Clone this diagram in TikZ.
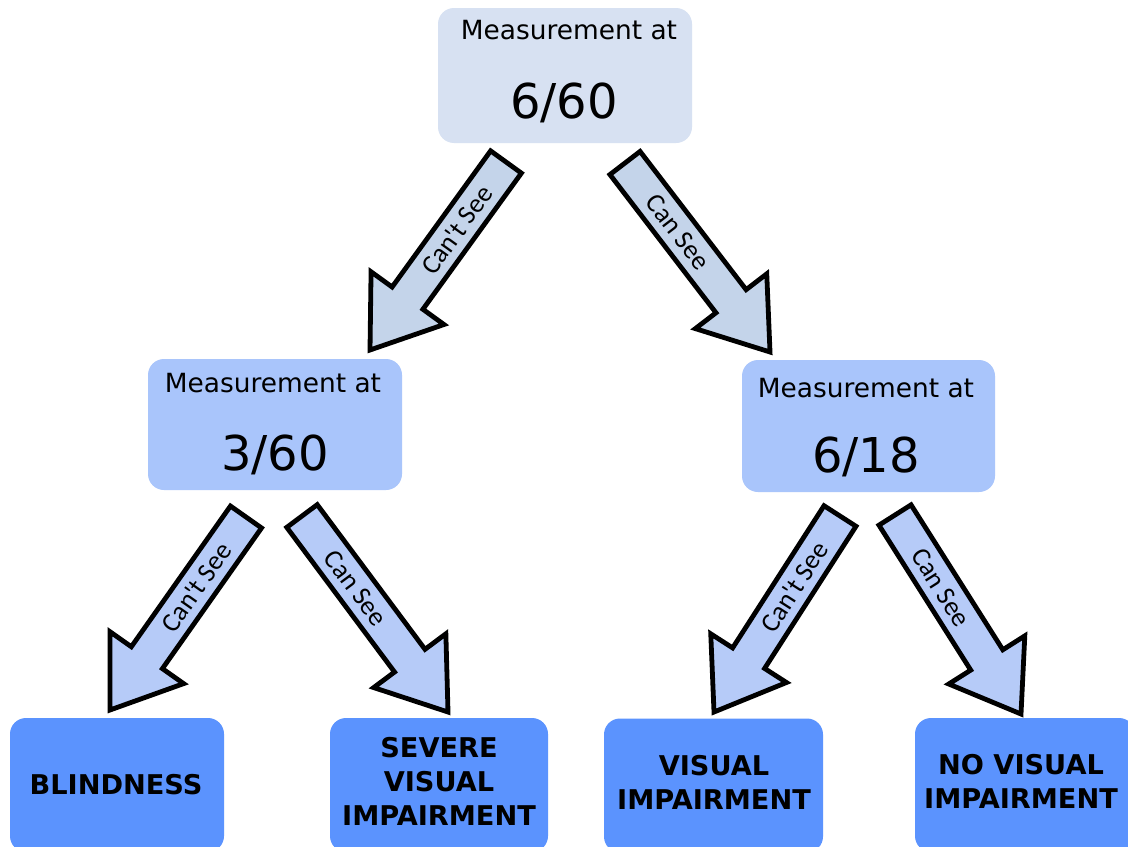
\documentclass[tikz,border=0pt]{standalone}
\usepackage{fontspec}
\setmainfont{DejaVu Sans}
\newfontfamily\lblfont{Carlito}
\usetikzlibrary{calc}
\definecolor{topbox}{HTML}{D7E1F2}
\definecolor{midbox}{HTML}{A9C5FB}
\definecolor{botbox}{HTML}{5B93FE}
\definecolor{toparr}{HTML}{C4D4EA}
\definecolor{lowarr}{HTML}{B6CBF8}
\tikzset{
  box/.style={rectangle, rounded corners=8pt, draw=none, inner sep=0pt},
  meastext/.style={inner sep=0pt, font=\fontsize{13.2}{15}\selectfont},
  valtext/.style={inner sep=0pt, font=\fontsize{24}{28}\selectfont},
  restext/.style={inner sep=0pt, align=center, font=\fontsize{13.6}{17}\selectfont\bfseries},
  arrbody/.style={draw=black, line width=2.4pt, line join=miter},
  arrlabel/.style={inner sep=0pt, font=\lblfont\fontsize{13.5}{15}\selectfont}
}
\newcommand\blockarrow[4]{%
  \coordinate (#1n) at ($(#2)!32pt!(#1)$);
  \draw[arrbody, fill=#4] ($(#1)!9.5pt!90:(#2)$) -- ($(#1n)!9.5pt!90:(#2)$) -- ($(#1n)!22.5pt!90:(#2)$) -- (#2) -- ($(#1n)!22.5pt!-90:(#2)$) -- ($(#1n)!9.5pt!-90:(#2)$) -- ($(#1)!9.5pt!-90:(#2)$) -- cycle;
  \path (#1) -- (#1n) node[midway, sloped, arrlabel] (#1lbl) {#3};
}
\begin{document}
\begin{tikzpicture}[x=0.5pt, y=-0.5pt]
\path[use as bounding box, fill=white] (0,0) rectangle (1128,846);
\clip (0,0) rectangle (1128,846);

% boxes
\node[box, fill=topbox, minimum width=127pt, minimum height=67.5pt] (top) at (565,75.5) {};
\node[box, fill=midbox, minimum width=127pt, minimum height=65.5pt] (ml) at (275,424.5) {};
\node[box, fill=midbox, minimum width=126.5pt, minimum height=66pt] (mr) at (868.5,426) {};
\node[box, fill=botbox, minimum width=107pt, minimum height=67pt] (b1) at (117,785) {};
\node[box, fill=botbox, minimum width=109pt, minimum height=67pt] (b2) at (439,785) {};
\node[box, fill=botbox, minimum width=109.5pt, minimum height=67pt] (b3) at (713.5,785.5) {};
\node[box, fill=botbox, minimum width=110pt, minimum height=67pt] (b4) at (1025,785) {};

% box texts
\node[meastext] (topm) at (569,30) {Measurement at};
\node[valtext] (topv) at (564,103) {6/60};
\node[meastext] (mlm) at (273,383) {Measurement at};
\node[valtext] (mlv) at (275,455) {3/60};
\node[meastext] (mrm) at (866,388) {Measurement at};
\node[valtext] (mrv) at (866,457) {6/18};
\node[restext] (b1t) at (116,785) {BLINDNESS};
\node[restext] (b2t) at (439,781) {SEVERE\\VISUAL\\IMPAIRMENT};
\node[restext] (b3t) at (714,782) {VISUAL\\IMPAIRMENT};
\node[restext] (b4t) at (1021,781) {NO VISUAL\\IMPAIRMENT};

% arrow end points
\coordinate (a1) at (506,162);
\coordinate (a1p) at (370,350);
\coordinate (a2) at (625,163);
\coordinate (a2p) at (770,352);
\coordinate (a3) at (246,517);
\coordinate (a3p) at (110,710);
\coordinate (a4) at (302,516);
\coordinate (a4p) at (448,712);
\coordinate (a5) at (840,516);
\coordinate (a5p) at (714,712);
\coordinate (a6) at (895,515);
\coordinate (a6p) at (1021,714);

\blockarrow{a1}{a1p}{Can't See}{toparr}
\blockarrow{a2}{a2p}{Can See}{toparr}
\blockarrow{a3}{a3p}{Can't See}{lowarr}
\blockarrow{a4}{a4p}{Can See}{lowarr}
\blockarrow{a5}{a5p}{Can't See}{lowarr}
\blockarrow{a6}{a6p}{Can See}{lowarr}
\end{tikzpicture}
\end{document}
